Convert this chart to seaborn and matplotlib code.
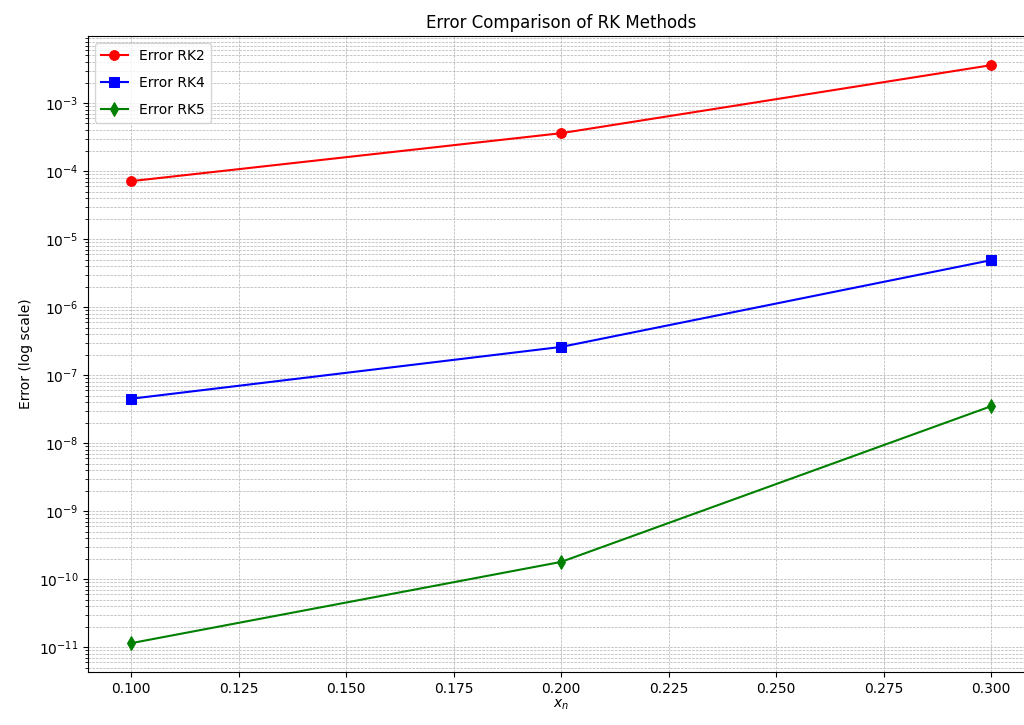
import pandas as pd
import seaborn as sns
import matplotlib
matplotlib.use("Agg")
import matplotlib.pyplot as plt

x_n = [0.1, 0.2, 0.3]
err_rk2 = [7.1e-5, 3.6e-4, 3.6e-3]
err_rk4 = [4.5e-8, 2.6e-7, 4.9e-6]
err_rk5 = [1.15e-11, 1.8e-10, 3.5e-8]

series = [
    ("Error RK2", err_rk2, "red", "o"),
    ("Error RK4", err_rk4, "blue", "s"),
    ("Error RK5", err_rk5, "green", "d"),
]

fig, ax = plt.subplots(figsize=(10.24, 7.25), dpi=100)

for label, values, color, marker in series:
    df = pd.DataFrame({"x": x_n, "err": values})
    sns.lineplot(data=df, x="x", y="err", ax=ax, color=color, marker=marker,
                 markersize=7, markeredgecolor=color, linewidth=1.5, label=label)

ax.set_yscale("log")
ax.set_xticks([0.1, 0.125, 0.15, 0.175, 0.2, 0.225, 0.25, 0.275, 0.3])
ax.set_xlabel("$x_n$", labelpad=1)
ax.set_ylabel("Error (log scale)")
ax.set_title("Error Comparison of RK Methods")
ax.grid(True, which="both", linestyle="--", linewidth=0.5)
ax.legend(loc="upper left", labelspacing=0.95)

# the reference is cropped on the right, so the axes run past the figure edge
fig.subplots_adjust(left=0.086, right=1.01, top=0.950, bottom=0.073)
fig.savefig("out.png", dpi=100)
